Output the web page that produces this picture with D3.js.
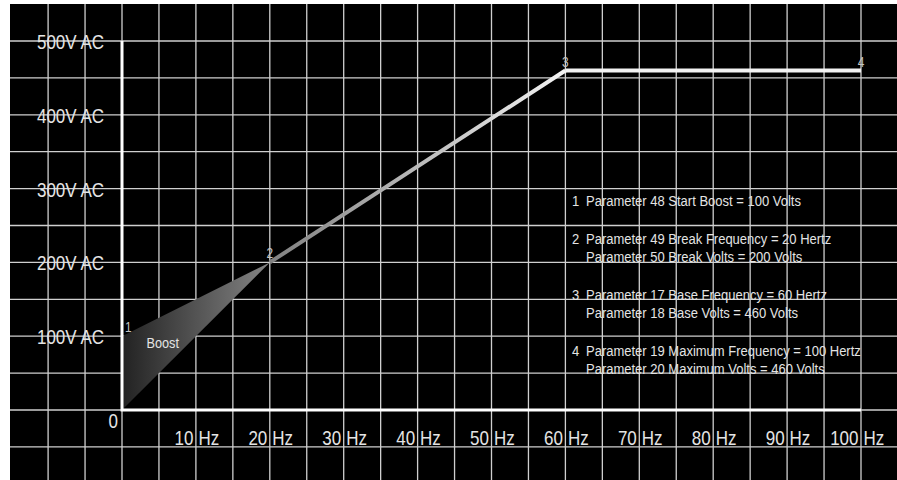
<!DOCTYPE html>
<html>
<head>
<meta charset="utf-8">
<script src="https://cdn.jsdelivr.net/npm/d3@7"></script>
<style>
  html, body { margin: 0; padding: 0; background: #fff; }
  svg { display: block; }
  text { font-family: "Liberation Sans", Arial, sans-serif; }
</style>
</head>
<body>
<svg id="chart" width="897" height="480"></svg>
<script>
// V/Hz curve data
const freqTicks = [10, 20, 30, 40, 50, 60, 70, 80, 90, 100];
const voltTicks = [100, 200, 300, 400, 500];
const pointIds = ["1", "2", "3", "4"];
const pointHz = [0, 20, 60, 100];
const pointVolts = [100, 200, 460, 460];
const legendIds = ["1", "2", "3", "4"];
const legendText = [
    ["Parameter 48 Start Boost = 100 Volts"],
    ["Parameter 49 Break Frequency = 20 Hertz", "Parameter 50 Break Volts = 200 Volts"],
    ["Parameter 17 Base Frequency = 60 Hertz", "Parameter 18 Base Volts = 460 Volts"],
    ["Parameter 19 Maximum Frequency = 100 Hertz", "Parameter 20 Maximum Volts = 460 Volts"]
];

// no narrow font installed, so squeeze a normal one
const narrow = 0.85;
const at = (x, y) => `translate(${x},${y}) scale(${narrow},1)`;

class VoltsHertzChart {
    #grid = "#cfcfcf";
    #text = "#e4e4e4";

    constructor(svgid){
        this.svg = d3.select(svgid);
        this.width = +this.svg.attr("width");
        this.height = +this.svg.attr("height");

        this.x = d3.scaleLinear().domain([0, 100]).range([122, 861]);
        this.y = d3.scaleLinear().domain([0, 500]).range([410, 41]);

        this.points = pointHz.map((hz, i) => ({id: pointIds[i], hz: hz, v: pointVolts[i]}));
    }

    draw(){
        let x = this.x, y = this.y;
        let defs = this.svg.append("defs");

        let g1 = defs.append("linearGradient").attr("id", "boostFill")
            .attr("gradientUnits", "userSpaceOnUse")
            .attr("x1", x(0)).attr("x2", x(pointHz[1])).attr("y1", 0).attr("y2", 0);
        g1.append("stop").attr("offset", 0).attr("stop-color", "#222");
        g1.append("stop").attr("offset", 1).attr("stop-color", "#858585");

        let g2 = defs.append("linearGradient").attr("id", "rampStroke")
            .attr("gradientUnits", "userSpaceOnUse")
            .attr("x1", x(pointHz[1])).attr("x2", x(pointHz[2])).attr("y1", 0).attr("y2", 0);
        g2.append("stop").attr("offset", 0).attr("stop-color", "#808080");
        g2.append("stop").attr("offset", 1).attr("stop-color", "#f4f4f4");

        // black panel
        this.svg.append("rect")
            .attr("x", 10).attr("y", 4)
            .attr("width", this.width - 10).attr("height", this.height - 4)
            .attr("fill", "#000");

        // grid
        let grid = this.svg.append("g");
        grid.selectAll(".vgrid")
            .data(d3.range(-10, 101, 5))
            .join("line")
            .attr("class", "vgrid")
            .attr("x1", d => x(d)).attr("x2", d => x(d))
            .attr("y1", 4).attr("y2", this.height)
            .attr("stroke", this.#grid).attr("stroke-width", 1.3);
        grid.selectAll(".hgrid")
            .data(d3.range(-50, 501, 50))
            .join("line")
            .attr("class", "hgrid")
            .attr("x1", 10).attr("x2", this.width)
            .attr("y1", d => y(d)).attr("y2", d => y(d))
            .attr("stroke", this.#grid).attr("stroke-width", 1.3);

        // boost wedge
        let wedge = [[0, 0], [pointHz[0], pointVolts[0]], [pointHz[1], pointVolts[1]]];
        this.svg.append("path")
            .attr("d", d3.line().x(d => x(d[0])).y(d => y(d[1]))(wedge) + "Z")
            .attr("fill", "url(#boostFill)");

        // axes
        this.svg.append("path")
            .attr("d", `M${x(0)},${y(500)}V${y(0)}H${x(100)}`)
            .attr("fill", "none").attr("stroke", "#fff").attr("stroke-width", 3);

        // curve
        let line = d3.line().x(d => x(d.hz)).y(d => y(d.v));
        this.svg.append("path")
            .attr("d", line(this.points.slice(1, 3)))
            .attr("stroke", "url(#rampStroke)").attr("stroke-width", 4).attr("fill", "none");
        this.svg.append("path")
            .attr("d", line(this.points.slice(2, 4)))
            .attr("stroke", "#f2f2f2").attr("stroke-width", 4).attr("fill", "none");

        // point numbers
        this.svg.selectAll(".ptlabel")
            .data(this.points)
            .join("text")
            .attr("class", "ptlabel")
            .attr("transform", (d, i) => at(i == 0 ? x(d.hz) + 3 : x(d.hz), y(d.v) - 4))
            .attr("text-anchor", (d, i) => i == 0 ? "start" : "middle")
            .attr("font-size", 14)
            .attr("fill", "#c4c4c4")
            .text(d => d.id);

        this.svg.append("text")
            .attr("transform", at(x(3.3), y(84)))
            .attr("font-size", 15).attr("fill", this.#text)
            .text("Boost");

        // y labels
        this.svg.selectAll(".ylabel")
            .data(voltTicks)
            .join("text")
            .attr("class", "ylabel")
            .attr("transform", d => at(104, y(d) + 8))
            .attr("text-anchor", "end")
            .attr("font-size", 20).attr("fill", this.#text)
            .text(d => d + "V AC");

        this.svg.append("text")
            .attr("transform", at(118, 428))
            .attr("text-anchor", "end")
            .attr("font-size", 20).attr("fill", this.#text)
            .text("0");

        // x labels, split around the grid line
        let xl = this.svg.selectAll(".xlabel")
            .data(freqTicks)
            .join("g")
            .attr("class", "xlabel")
            .attr("font-size", 20).attr("fill", this.#text);
        xl.append("text")
            .attr("transform", d => at(x(d) - 2.5, 445))
            .attr("text-anchor", "end")
            .text(d => d);
        xl.append("text")
            .attr("transform", d => at(x(d) + 2.5, 445))
            .text("Hz");

        // legend
        let ly = 206;
        let lg = this.svg.append("g").attr("font-size", 15.3).attr("fill", this.#text);
        legendText.forEach((lines, i) => {
            lg.append("text").attr("transform", at(572, ly)).text(legendIds[i]);
            lines.forEach((t, j) => {
                lg.append("text").attr("transform", at(586, ly + j * 18)).text(t);
            });
            ly += lines.length * 18 + 20;
        });
    }
}

let chart = new VoltsHertzChart("#chart");
chart.draw();
</script>
</body>
</html>
